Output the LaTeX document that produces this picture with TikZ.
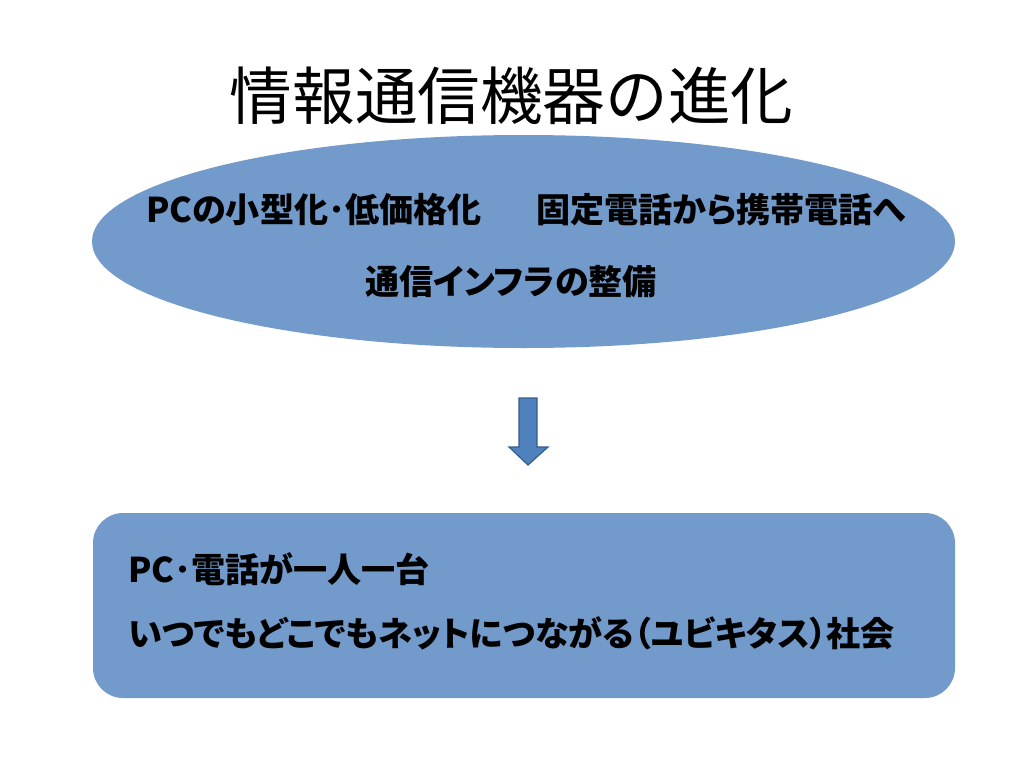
\documentclass[tikz,border=0pt]{standalone}
\usepackage{fontspec}
\setmainfont{Noto Sans CJK JP}
\newfontfamily\bodyfont{Noto Sans CJK JP}[RawFeature=+palt]
\definecolor{shapeblue}{RGB}{114,154,202}
\definecolor{arrowblue}{RGB}{79,129,189}
\definecolor{arrowedge}{RGB}{56,93,138}

\begin{document}
\begin{tikzpicture}[x=1pt, y=-1pt,
	bluefill/.style={fill=shapeblue, draw=none},
	bodytext/.style={font=\bodyfont\bfseries\fontsize{34.1}{40}\selectfont, inner sep=0pt}]
		%%%%% START %%%%%
		
		\useasboundingbox[fill=white] (0, 0) rectangle (1024, 768);
		
		\node[font=\fontsize{62.6}{70}\selectfont, inner sep=0pt] (title) at (511.5, 96) {情報通信機器の進化};
		
		\draw[bluefill] (523.5, 241.5) ellipse (431.5 and 106.5);
		\node[bodytext] (cause1) at (526, 210) {PCの小型化･低価格化\hspace{1.6em}固定電話から携帯電話へ};
		\node[bodytext] (cause2) at (511, 282) {通信インフラの整備};
		
		\draw[fill=arrowblue, draw=arrowedge, line width=1.2pt] (519, 398) -- (537, 398) -- (537, 447) -- (548, 447) -- (528, 465) -- (509, 447) -- (519, 447) -- cycle;
		
		\draw[bluefill, rounded corners=30] (93, 513) rectangle (955, 698);
		\node[bodytext, anchor=west] (result1) at (128, 569) {PC･電話が一人一台};
		\node[bodytext, anchor=west] (result2) at (128, 633) {いつでもどこでもネットにつながる（ユビキタス）社会};
		
		%%%%% END %%%%%
	\end{tikzpicture}
\end{document}
